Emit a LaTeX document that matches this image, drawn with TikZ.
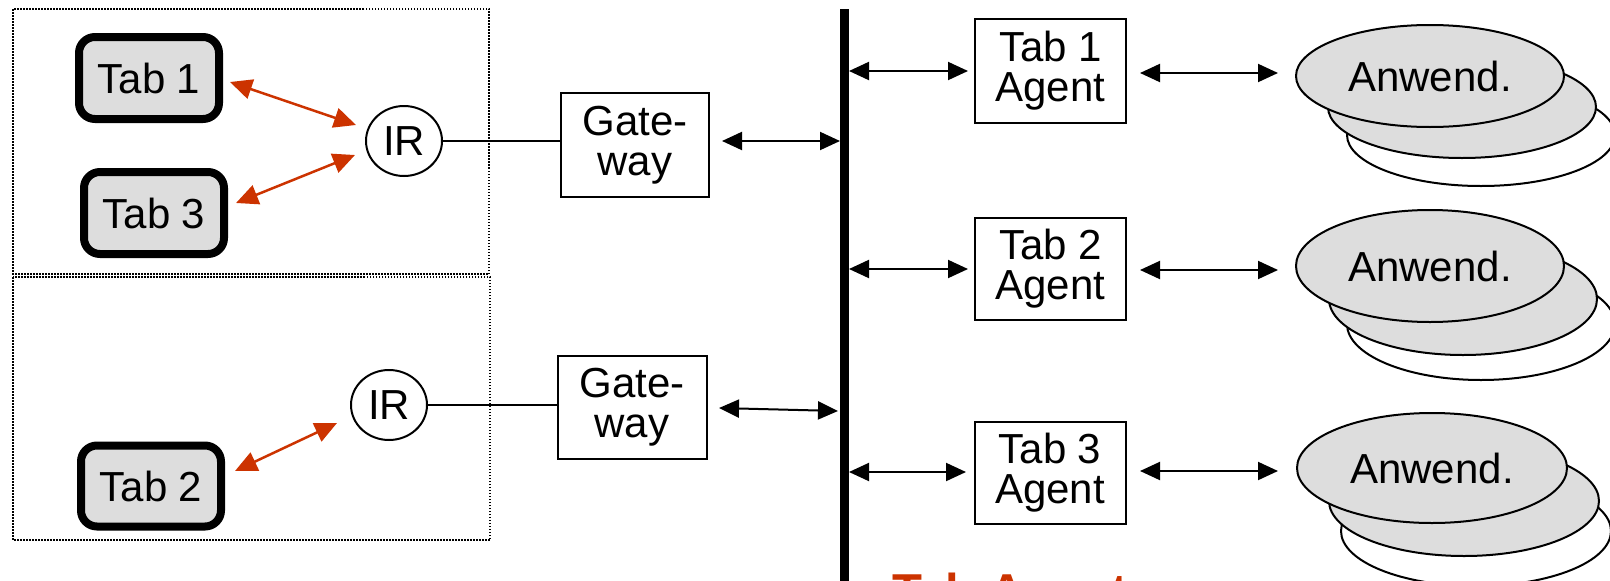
\documentclass[tikz,border=0pt]{standalone}
\usepackage{fontspec}
\setmainfont{Liberation Sans}
\usetikzlibrary{arrows.meta,shapes.geometric}
\definecolor{redarr}{HTML}{CC3300}
\definecolor{boxgray}{HTML}{DDDDDD}
\begin{document}
\begin{tikzpicture}[x=1pt,y=-1pt, font=\fontsize{42}{40}\selectfont,
 tabbox/.style={draw,line width=8pt,rounded corners=16pt,fill=boxgray,minimum width=140pt,minimum height=82pt,inner sep=0pt},
 plainbox/.style={draw,line width=2pt,minimum width=150pt,minimum height=103pt,inner sep=0pt,align=center},
 irnode/.style={draw,ellipse,line width=2pt,minimum width=76pt,minimum height=70pt,inner sep=0pt},
 appell/.style={draw,ellipse,line width=2pt,minimum width=268pt,inner sep=0pt},
 redarrow/.style={draw=redarr,line width=2.5pt,{Triangle[length=22pt,width=20pt]}-{Triangle[length=22pt,width=20pt]}},
 blackarrow/.style={line width=2pt,{Triangle[length=20pt,width=18pt]}-{Triangle[length=20pt,width=18pt]}},
 dotbox/.style={line width=1.5pt,dash pattern=on 1.5pt off 1.5pt}
]
\useasboundingbox (0,0) rectangle (1610,581);

% dotted frames
\draw[dotbox] (13,9) rectangle (489,274);
\draw[dotbox] (13,277) rectangle (490,540);

% tables
\node[tabbox] (tab1) at (149,78) {Tab 1};
\node[tabbox] (tab3) at (154,213) {Tab 3};
\node[tabbox,minimum height=81pt] (tab2) at (151,486) {Tab 2};

% IR nodes
\node[irnode] (ir1) at (404,141) {IR};
\node[irnode] (ir2) at (389,405) {IR};

% gateways
\node[plainbox,minimum width=148pt,minimum height=104pt] (gw1) at (635,145) {Gate-\\way};
\node[plainbox,minimum width=149pt,minimum height=103pt] (gw2) at (632,407.5) {Gate-\\way};

% bus
\coordinate (bustop) at (844.5,9);
\coordinate (busbot) at (844.5,600);
\draw[line width=9pt] (bustop) -- (busbot);

% agents
\node[plainbox,minimum width=151pt,minimum height=104pt] (ag1) at (1050.5,71) {Tab 1\\Agent};
\node[plainbox,minimum width=151pt,minimum height=102pt] (ag2) at (1050.5,269) {Tab 2\\Agent};
\node[plainbox,minimum width=151pt,minimum height=102pt] (ag3) at (1050,473) {Tab 3\\Agent};

% application stacks
\node[appell,fill=white,minimum height=102pt] (a1c) at (1481,135) {};
\node[appell,fill=boxgray,minimum height=102pt] (a1b) at (1462,107) {};
\node[appell,fill=boxgray,minimum height=102pt] (a1) at (1430,76) {Anwend.};

\node[appell,fill=white,minimum height=112pt] (a2c) at (1481,324) {};
\node[appell,fill=boxgray,minimum height=112pt] (a2b) at (1463,299) {};
\node[appell,fill=boxgray,minimum height=112pt] (a2) at (1430,266) {Anwend.};

\node[appell,fill=white,minimum height=110pt,minimum width=270pt] (a3c) at (1476,531) {};
\node[appell,fill=boxgray,minimum height=110pt,minimum width=270pt] (a3b) at (1464,501) {};
\node[appell,fill=boxgray,minimum height=110pt,minimum width=270pt] (a3) at (1432,468) {Anwend.};

% red arrows
\coordinate (r1a) at (230,82);  \coordinate (r1b) at (356,125);
\coordinate (r3a) at (236,203); \coordinate (r3b) at (355,155);
\coordinate (r2a) at (235,471); \coordinate (r2b) at (337,423);
\draw[redarrow] (r1a) -- (r1b);
\draw[redarrow] (r3a) -- (r3b);
\draw[redarrow] (r2a) -- (r2b);

% IR to gateway
\draw[line width=2pt] (ir1.east) -- (ir1.east -| gw1.west);
\draw[line width=2pt] (ir2.east) -- (ir2.east -| gw2.west);

% gateway to bus
\coordinate (g1a) at (722,141); \coordinate (g1b) at (840,141);
\coordinate (g2a) at (719,408); \coordinate (g2b) at (838,411);
\draw[blackarrow] (g1a) -- (g1b);
\draw[blackarrow] (g2a) -- (g2b);

% bus to agents
\coordinate (b1a) at (849,71);  \coordinate (b1b) at (968,71);
\coordinate (b2a) at (849,269); \coordinate (b2b) at (968,269);
\coordinate (b3a) at (849,472); \coordinate (b3b) at (966,472);
\draw[blackarrow] (b1a) -- (b1b);
\draw[blackarrow] (b2a) -- (b2b);
\draw[blackarrow] (b3a) -- (b3b);

% agents to applications
\coordinate (p1a) at (1140,73);  \coordinate (p1b) at (1278,73);
\coordinate (p2a) at (1140,270); \coordinate (p2b) at (1278,270);
\coordinate (p3a) at (1140,471); \coordinate (p3b) at (1278,471);
\draw[blackarrow] (p1a) -- (p1b);
\draw[blackarrow] (p2a) -- (p2b);
\draw[blackarrow] (p3a) -- (p3b);

% cut-off caption
\node[anchor=base west,inner sep=0pt,text=redarr,font=\fontsize{49}{50}\selectfont\bfseries] (caption) at (892,608) {Tab Agent};
\end{tikzpicture}
\end{document}
